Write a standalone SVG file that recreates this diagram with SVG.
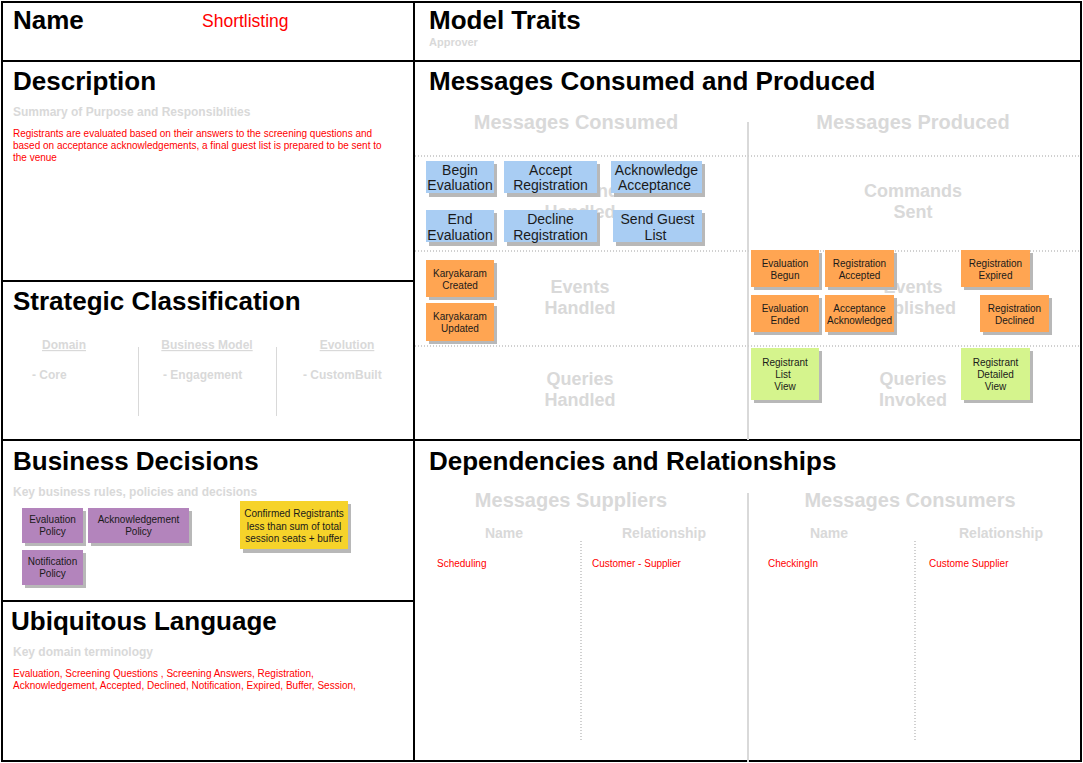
<svg xmlns="http://www.w3.org/2000/svg" width="1083" height="763" viewBox="0 0 1083 763">
  <style>
    text { font-family: "Liberation Sans", Arial, sans-serif; }
    .title { font-size: 26px; font-weight: bold; fill: #000; }
    .hint { font-size: 12px; font-weight: bold; fill: #d9d9d9; }
    .big { font-size: 20px; font-weight: bold; fill: #d9d9d9; text-anchor: middle; }
    .mid { font-size: 14px; font-weight: bold; fill: #d9d9d9; text-anchor: middle; }
    .zone { font-size: 18px; font-weight: bold; fill: #d9d9d9; text-anchor: middle; }
    .red { font-size: 10px; fill: #ff0000; }
    .frame { stroke: #000; stroke-width: 2; fill: none; }
    .sep { stroke: #d9d9d9; stroke-width: 2; }
    .dots { stroke: #d0d0d0; stroke-width: 2; stroke-dasharray: 1 2; }
    .shadow { fill: #b8b8b8; }
    .cmd { fill: #a9cdf3; }
    .evt { fill: #ffa552; }
    .qry { fill: #d5f48d; }
    .pol { fill: #b384bc; }
    .rule { fill: #f6d32a; }
    .lbl14 { font-size: 14px; fill: #1a1a1a; text-anchor: middle; }
    .lbl10 { font-size: 10px; fill: #1a1a1a; text-anchor: middle; }
  </style>

  <rect width="1083" height="763" fill="#fff"/>

  <!-- canvas frame and section rules -->
  <g id="frame">
    <rect x="2" y="2" width="1079" height="759" class="frame" stroke-width="3"/>
    <line x1="414" y1="2" x2="414" y2="761" class="frame"/>
    <line x1="2" y1="61" x2="1081" y2="61" class="frame"/>
    <line x1="2" y1="281" x2="414" y2="281" class="frame" stroke-width="1.5"/>
    <line x1="2" y1="440" x2="1081" y2="440" class="frame" stroke-width="1.5"/>
    <line x1="2" y1="601" x2="414" y2="601" class="frame" stroke-width="1.5"/>
  </g>

  <!-- Name -->
  <g id="name">
    <text x="13" y="29" class="title">Name</text>
    <text x="202" y="27" font-size="17.5" fill="#ff0000">Shortlisting</text>
  </g>

  <!-- Description -->
  <g id="description">
    <text x="13" y="90" class="title">Description</text>
    <text x="13" y="116" class="hint">Summary of Purpose and Responsiblities</text>
    <text x="13" y="137" class="red">Registrants are evaluated based on their answers to the screening questions and</text>
    <text x="13" y="149" class="red">based on acceptance acknowledgements, a final guest list is prepared to be sent to</text>
    <text x="13" y="161" class="red">the venue</text>
  </g>

  <!-- Strategic Classification -->
  <g id="strategic">
    <text x="13" y="310" class="title">Strategic Classification</text>
    <text x="64" y="349" font-size="12" font-weight="bold" fill="#d9d9d9" text-anchor="middle" text-decoration="underline">Domain</text>
    <text x="207" y="349" font-size="12" font-weight="bold" fill="#d9d9d9" text-anchor="middle" text-decoration="underline">Business Model</text>
    <text x="347" y="349" font-size="12" font-weight="bold" fill="#d9d9d9" text-anchor="middle" text-decoration="underline">Evolution</text>
    <text x="32" y="379" class="hint">- Core</text>
    <text x="163" y="379" class="hint">- Engagement</text>
    <text x="303" y="379" class="hint">- CustomBuilt</text>
    <line x1="138.5" y1="347" x2="138.5" y2="416" stroke="#d9d9d9" stroke-width="1"/>
    <line x1="276.5" y1="347" x2="276.5" y2="416" stroke="#d9d9d9" stroke-width="1"/>
  </g>

  <!-- Business Decisions -->
  <g id="business-decisions">
    <text x="13" y="470" class="title">Business Decisions</text>
    <text x="13" y="496" class="hint">Key business rules, policies and decisions</text>
  </g>
  <g id="evaluation-policy">
    <rect x="25" y="511" width="61" height="35" class="shadow"/>
    <rect x="22" y="508" width="61" height="35" class="pol"/>
    <text x="52.5" y="523" class="lbl10">Evaluation</text>
    <text x="52.5" y="535" class="lbl10">Policy</text>
  </g>
  <g id="acknowledgement-policy">
    <rect x="91" y="511" width="101" height="35" class="shadow"/>
    <rect x="88" y="508" width="101" height="35" class="pol"/>
    <text x="138.5" y="523" class="lbl10">Acknowledgement</text>
    <text x="138.5" y="535" class="lbl10">Policy</text>
  </g>
  <g id="notification-policy">
    <rect x="25" y="553" width="61" height="35" class="shadow"/>
    <rect x="22" y="550" width="61" height="35" class="pol"/>
    <text x="52.5" y="565" class="lbl10">Notification</text>
    <text x="52.5" y="577" class="lbl10">Policy</text>
  </g>
  <g id="seat-rule">
    <rect x="243" y="504" width="108" height="49" class="shadow"/>
    <rect x="240" y="501" width="108" height="48" class="rule"/>
    <text x="294" y="517" class="lbl10">Confirmed Registrants</text>
    <text x="294" y="530" class="lbl10">less than sum of total</text>
    <text x="294" y="542" class="lbl10">session seats + buffer</text>
  </g>

  <!-- Ubiquitous Language -->
  <g id="ubiquitous-language">
    <text x="11" y="630" class="title">Ubiquitous Language</text>
    <text x="13" y="656" class="hint">Key domain terminology</text>
    <text x="13" y="677" class="red">Evaluation, Screening Questions , Screening Answers, Registration,</text>
    <text x="13" y="689" class="red">Acknowledgement, Accepted, Declined,  Notification, Expired, Buffer, Session,</text>
  </g>

  <!-- Model Traits -->
  <g id="model-traits">
    <text x="429" y="29" class="title">Model Traits</text>
    <text x="429" y="46" font-size="11" font-weight="bold" fill="#d9d9d9">Approver</text>
  </g>

  <!-- Messages Consumed and Produced -->
  <g id="messages">
    <text x="429" y="90" class="title">Messages Consumed and Produced</text>
    <text x="576" y="129" class="big">Messages Consumed</text>
    <text x="913" y="129" class="big">Messages Produced</text>
    <line x1="748" y1="122" x2="748" y2="440" class="sep"/>
    <line x1="415" y1="156" x2="1081" y2="156" class="dots"/>
    <line x1="415" y1="251" x2="1081" y2="251" class="dots"/>
    <line x1="415" y1="346" x2="1081" y2="346" class="dots"/>
    <text x="580" y="197" class="zone">Commands</text>
    <text x="580" y="218" class="zone">Handled</text>
    <text x="913" y="197" class="zone">Commands</text>
    <text x="913" y="218" class="zone">Sent</text>
    <text x="580" y="293" class="zone">Events</text>
    <text x="580" y="314" class="zone">Handled</text>
    <text x="913" y="293" class="zone">Events</text>
    <text x="913" y="314" class="zone">Published</text>
    <text x="580" y="385" class="zone">Queries</text>
    <text x="580" y="406" class="zone">Handled</text>
    <text x="913" y="385" class="zone">Queries</text>
    <text x="913" y="406" class="zone">Invoked</text>
  </g>

  <!-- Commands handled -->
  <g id="begin-evaluation">
    <rect x="429" y="164" width="68" height="33" class="shadow"/>
    <rect x="426" y="161" width="68" height="32" class="cmd"/>
    <text x="460" y="175" class="lbl14">Begin</text>
    <text x="460" y="190" class="lbl14">Evaluation</text>
  </g>
  <g id="accept-registration">
    <rect x="507" y="164" width="93" height="33" class="shadow"/>
    <rect x="504" y="161" width="93" height="32" class="cmd"/>
    <text x="550.5" y="175" class="lbl14">Accept</text>
    <text x="550.5" y="190" class="lbl14">Registration</text>
  </g>
  <g id="acknowledge-acceptance">
    <rect x="614" y="164" width="91" height="33" class="shadow"/>
    <rect x="611" y="161" width="91" height="32" class="cmd"/>
    <text x="656.5" y="175" class="lbl14">Acknowledge</text>
    <text x="654.5" y="190" class="lbl14">Acceptance</text>
  </g>
  <g id="end-evaluation">
    <rect x="429" y="213" width="68" height="33" class="shadow"/>
    <rect x="426" y="210" width="68" height="32" class="cmd"/>
    <text x="460" y="224" class="lbl14">End</text>
    <text x="460" y="240" class="lbl14">Evaluation</text>
  </g>
  <g id="decline-registration">
    <rect x="507" y="213" width="93" height="33" class="shadow"/>
    <rect x="504" y="210" width="93" height="32" class="cmd"/>
    <text x="550.5" y="224" class="lbl14">Decline</text>
    <text x="550.5" y="240" class="lbl14">Registration</text>
  </g>
  <g id="send-guest-list">
    <rect x="616" y="213" width="89" height="33" class="shadow"/>
    <rect x="613" y="210" width="89" height="32" class="cmd"/>
    <text x="657.5" y="224" class="lbl14">Send Guest</text>
    <text x="655.5" y="240" class="lbl14">List</text>
  </g>

  <!-- Events handled -->
  <g id="karyakaram-created">
    <rect x="429" y="263" width="68" height="37" class="shadow"/>
    <rect x="426" y="260" width="68" height="37" class="evt"/>
    <text x="460" y="277" class="lbl10">Karyakaram</text>
    <text x="460" y="289" class="lbl10">Created</text>
  </g>
  <g id="karyakaram-updated">
    <rect x="429" y="306" width="68" height="38" class="shadow"/>
    <rect x="426" y="303" width="68" height="38" class="evt"/>
    <text x="460" y="320" class="lbl10">Karyakaram</text>
    <text x="460" y="332" class="lbl10">Updated</text>
  </g>

  <!-- Events published -->
  <g id="evaluation-begun">
    <rect x="754" y="253" width="68" height="37" class="shadow"/>
    <rect x="751" y="250" width="68" height="37" class="evt"/>
    <text x="785" y="267" class="lbl10">Evaluation</text>
    <text x="785" y="279" class="lbl10">Begun</text>
  </g>
  <g id="registration-accepted">
    <rect x="828" y="253" width="69" height="37" class="shadow"/>
    <rect x="825" y="250" width="69" height="37" class="evt"/>
    <text x="859.5" y="267" class="lbl10">Registration</text>
    <text x="859.5" y="279" class="lbl10">Accepted</text>
  </g>
  <g id="registration-expired">
    <rect x="964" y="253" width="69" height="37" class="shadow"/>
    <rect x="961" y="250" width="69" height="37" class="evt"/>
    <text x="995.5" y="267" class="lbl10">Registration</text>
    <text x="995.5" y="279" class="lbl10">Expired</text>
  </g>
  <g id="evaluation-ended">
    <rect x="754" y="298" width="68" height="37" class="shadow"/>
    <rect x="751" y="295" width="68" height="37" class="evt"/>
    <text x="785" y="312" class="lbl10">Evaluation</text>
    <text x="785" y="324" class="lbl10">Ended</text>
  </g>
  <g id="acceptance-acknowledged">
    <rect x="828" y="298" width="69" height="37" class="shadow"/>
    <rect x="825" y="295" width="69" height="37" class="evt"/>
    <text x="859.5" y="312" class="lbl10">Acceptance</text>
    <text x="859.5" y="324" class="lbl10">Acknowledged</text>
  </g>
  <g id="registration-declined">
    <rect x="983" y="298" width="69" height="37" class="shadow"/>
    <rect x="980" y="295" width="69" height="37" class="evt"/>
    <text x="1014.5" y="312" class="lbl10">Registration</text>
    <text x="1014.5" y="324" class="lbl10">Declined</text>
  </g>

  <!-- Queries invoked -->
  <g id="registrant-list-view">
    <rect x="754" y="351" width="68" height="52" class="shadow"/>
    <rect x="751" y="348" width="68" height="52" class="qry"/>
    <text x="785" y="366" class="lbl10">Registrant</text>
    <text x="783" y="378" class="lbl10">List</text>
    <text x="785" y="390" class="lbl10">View</text>
  </g>
  <g id="registrant-detailed-view">
    <rect x="964" y="351" width="69" height="52" class="shadow"/>
    <rect x="961" y="348" width="69" height="52" class="qry"/>
    <text x="995.5" y="366" class="lbl10">Registrant</text>
    <text x="995.5" y="378" class="lbl10">Detailed</text>
    <text x="995.5" y="390" class="lbl10">View</text>
  </g>

  <!-- Dependencies and Relationships -->
  <g id="dependencies">
    <text x="429" y="470" class="title">Dependencies and Relationships</text>
    <text x="571" y="507" class="big">Messages Suppliers</text>
    <text x="910" y="507" class="big">Messages Consumers</text>
    <text x="504" y="538" class="mid">Name</text>
    <text x="664" y="538" class="mid">Relationship</text>
    <text x="829" y="538" class="mid">Name</text>
    <text x="1001" y="538" class="mid">Relationship</text>
    <line x1="748" y1="493" x2="748" y2="762" class="sep"/>
    <line x1="581" y1="541" x2="581" y2="740" class="dots"/>
    <line x1="915" y1="541" x2="915" y2="740" class="dots"/>
    <text x="437" y="567" class="red" font-size="9.5">Scheduling</text>
    <text x="592" y="567" class="red" font-size="9.5">Customer - Supplier</text>
    <text x="768" y="567" class="red" font-size="9.5">CheckingIn</text>
    <text x="929" y="567" class="red" font-size="9.5">Custome Supplier</text>
  </g>
</svg>
